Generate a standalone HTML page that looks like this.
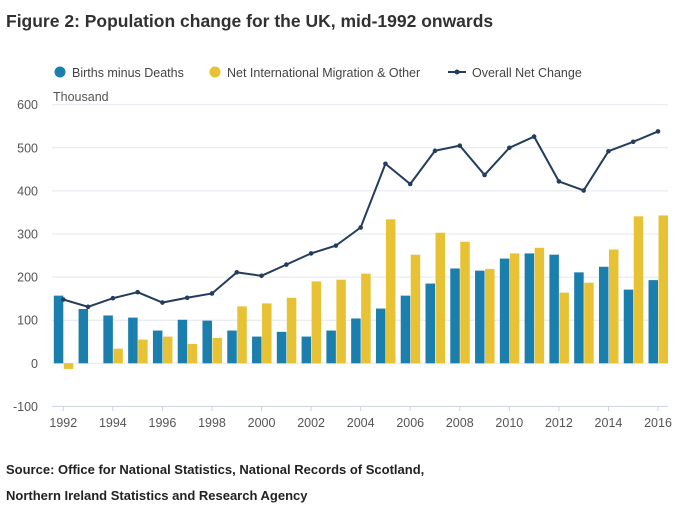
<!DOCTYPE html>
<html><head><meta charset="utf-8"><style>
body{margin:0;background:#fff;font-family:"Liberation Sans",sans-serif;}
svg text{font-family:"Liberation Sans",sans-serif;}
</style></head><body>
<svg id="c" width="680" height="506">
<text x="6" y="27" font-size="17.5" font-weight="bold" fill="#323132">Figure 2: Population change for the UK, mid-1992 onwards</text>
<g>
<circle cx="60" cy="72" r="5.5" fill="#1a7fad"/>
<text x="72" y="77" font-size="12.5" fill="#444">Births minus Deaths</text>
<circle cx="215" cy="72" r="5.5" fill="#e7c235"/>
<text x="227" y="77" font-size="12.5" fill="#444">Net International Migration &amp; Other</text>
<line x1="448" y1="72" x2="466" y2="72" stroke="#233d5c" stroke-width="2"/>
<circle cx="457" cy="72" r="2.5" fill="#233d5c"/>
<text x="472" y="77" font-size="12.5" fill="#444">Overall Net Change</text>
</g>
<text x="53" y="101" font-size="12.5" fill="#555">Thousand</text>
<g id="grid"></g><g id="bars"></g><g id="line"></g><g id="xt"></g>
<text x="6" y="474" font-size="13" font-weight="bold" fill="#222">Source: Office for National Statistics, National Records of Scotland,</text>
<text x="6" y="500" font-size="13" font-weight="bold" fill="#222">Northern Ireland Statistics and Research Agency</text>
</svg>
<script>
const years=[1992,1993,1994,1995,1996,1997,1998,1999,2000,2001,2002,2003,2004,2005,2006,2007,2008,2009,2010,2011,2012,2013,2014,2015,2016];
const births=[157,126,111,106,76,101,99,76,62,73,62,76,104,127,157,185,220,215,243,255,252,211,224,171,193];
const migration=[-13,0,34,55,62,45,59,132,139,152,190,194,208,334,252,303,282,219,255,268,164,187,264,341,343];
const net=[148,131,151,165,141,152,162,211,203,229,255,273,315,463,416,493,505,437,500,526,422,401,492,514,538];
const yTicks=[-100,0,100,200,300,400,500,600];
const NS='http://www.w3.org/2000/svg';
const x=i=>63.3+i*24.78;
const y=v=>363.3-v*0.431;
function mk(t,a,p){const e=document.createElementNS(NS,t);for(const k in a)e.setAttribute(k,a[k]);document.getElementById(p).appendChild(e);return e;}
yTicks.forEach(v=>{
 const l=mk('line',{x1:52,x2:668,y1:y(v),y2:y(v),stroke:v===-100?'#c9d3e6':'#e4e7ef','stroke-width':1},'grid');
 
 
 const t=mk('text',{x:38,y:y(v)+4.5,'font-size':12.5,fill:'#555','text-anchor':'end'},'grid');t.textContent=v;
 
 
});
years.forEach((yr,i)=>{
 const b=births[i],m=migration[i];
 const r1=mk('rect',{x:x(i)-9.5,width:9.5,y:Math.min(y(b),y(0)),height:Math.abs(y(b)-y(0)),fill:'#1a7fad'},'bars');
 
 
 const r2=mk('rect',{x:x(i)+0.5,width:9.5,y:Math.min(y(m),y(0)),height:Math.abs(y(m)-y(0)),fill:'#e7c235'},'bars');
 
 
 if(i%2===0){
  const tk=mk('line',{x1:x(i),x2:x(i),y1:406,y2:411,stroke:'#c9d3e6'},'xt');
  
  
  const t=mk('text',{x:x(i),y:427,'font-size':12.5,fill:'#555','text-anchor':'middle'},'xt');t.textContent=yr;
  
  
 }
});
const pl=mk('polyline',{points:net.map((v,i)=>x(i)+','+y(v)).join(' '),fill:'none',stroke:'#233d5c','stroke-width':2},'line');


net.forEach((v,i)=>{
 const c=mk('circle',{cx:x(i),cy:y(v),r:2.3,fill:'#233d5c'},'line');
 
 
});
</script>
</body></html>
